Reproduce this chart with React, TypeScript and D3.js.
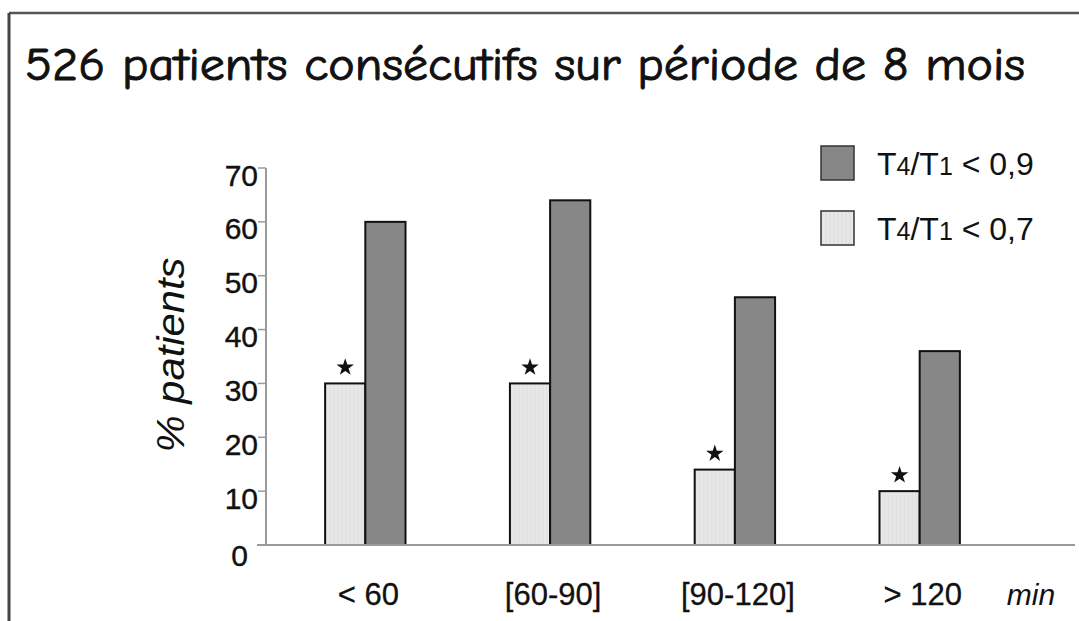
import React from "react";
import * as d3 from "d3";

const categories: string[] = ["< 60", "[60-90]", "[90-120]", "> 120"];
const seriesKeys: string[] = ["lt07", "lt09"];
const valuesLt07: number[] = [30, 30, 14, 10];
const valuesLt09: number[] = [60, 64, 46, 36];
const significant: boolean[] = [true, true, true, true];
const yTicks: number[] = [0, 10, 20, 30, 40, 50, 60, 70];
const titleText = "526 patients consécutifs sur période de 8 mois";
const yLabel = "% patients";
const unitLabel = "min";
const legendItems = [
  { key: "lt09", main: "T", sub1: "4", sep: "/T", sub2: "1", rest: " < 0,9" },
  { key: "lt07", main: "T", sub1: "4", sep: "/T", sub2: "1", rest: " < 0,7" },
];

const W = 1079;
const H = 621;
const FONT = "'Liberation Sans', Arial, Helvetica, sans-serif";
const COLORS: Record<string, string> = { lt07: "#e7e7e7", lt09: "#878787" };

export default function App() {
  const axisX = 266;
  const y = d3.scaleLinear().domain([0, 70]).range([545, 168]);
  const x = d3
    .scaleBand<string>()
    .domain(categories)
    .range([axisX, 1019])
    .paddingInner(0.565)
    .paddingOuter(0.32);
  const xs = d3.scaleBand<string>().domain(seriesKeys).range([0, x.bandwidth()]).padding(0);
  const data = categories.map((c, i) => ({
    cat: c,
    lt07: valuesLt07[i],
    lt09: valuesLt09[i],
    star: significant[i],
  }));
  const star = d3.symbol().type(d3.symbolStar).size(95)();

  return (
    <svg
      width={W}
      height={H}
      viewBox={`0 0 ${W} ${H}`}
      style={{ position: "absolute", left: 0, top: 0, background: "#fff" }}
    >
      <defs>
        <pattern id="stripes" width="4" height="4" patternUnits="userSpaceOnUse">
          <rect width="4" height="4" fill="#e8e8e8" />
          <line x1="1" y1="0" x2="1" y2="4" stroke="#dcdcdc" strokeWidth="1" />
        </pattern>
      </defs>
      <rect x={0} y={0} width={W} height={H} fill="#fff" />
      {/* frame */}
      <line x1={9} y1={13} x2={W} y2={13} stroke="#555" strokeWidth={2.5} />
      <line x1={9} y1={13} x2={9} y2={H} stroke="#444" strokeWidth={3} />

      {/* title */}
      <text
        x={25}
        y={80}
        fontFamily="'Comic Sans MS', 'Comic Neue', 'DejaVu Sans', sans-serif"
        fontSize={46}
        fontWeight={400}
        fill="#111"
        stroke="#111"
        strokeWidth={1}
        textLength={1000}
        lengthAdjust="spacingAndGlyphs"
      >
        {titleText}
      </text>

      {/* y label */}
      <text
        transform={`translate(184,355) rotate(-90)`}
        textAnchor="middle"
        fontFamily={FONT}
        fontStyle="italic"
        fontSize={39}
        fill="#111"
        textLength={195}
        lengthAdjust="spacingAndGlyphs"
      >
        {yLabel}
      </text>

      {/* y axis */}
      <line x1={axisX} y1={y(70)} x2={axisX} y2={y(0)} stroke="#9a9a9a" strokeWidth={2} />
      {yTicks.map((t) => (
        <g key={t} transform={`translate(0,${y(t)})`}>
          <line x1={axisX - 8} x2={axisX} y1={0} y2={0} stroke="#9a9a9a" strokeWidth={1.5} />
          <text
            x={t === 0 ? 248 : axisX - 8}
            y={t === 0 ? 10 : 7}
            dy="0.35em"
            textAnchor="end"
            fontFamily={FONT}
            fontSize={30}
            fill="#111"
            stroke="#111"
            strokeWidth={0.4}
          >
            {t}
          </text>
        </g>
      ))}

      {/* bars */}
      {data.map((d) => (
        <g key={d.cat} transform={`translate(${x(d.cat)},0)`}>
          {seriesKeys.map((k) => {
            const v = (d as any)[k] as number;
            return (
              <rect
                key={k}
                x={xs(k)}
                y={y(v)}
                width={xs.bandwidth()}
                height={y(0) - y(v)}
                fill={k === "lt07" ? "url(#stripes)" : COLORS[k]}
                stroke="#111"
                strokeWidth={2}
              />
            );
          })}
          {d.star && (
            <path
              d={star || ""}
              transform={`translate(${(xs("lt07") || 0) + xs.bandwidth() / 2},${y(d.lt07) - 16})`}
              fill="#111"
            />
          )}
        </g>
      ))}

      {/* baseline */}
      <line x1={257} x2={1075} y1={y(0)} y2={y(0)} stroke="#9a9a9a" strokeWidth={2} />

      {/* x labels */}
      {categories.map((c) => (
        <text
          key={c}
          x={(x(c) || 0) + x.bandwidth() / 2 + 3}
          y={605}
          textAnchor="middle"
          fontFamily={FONT}
          fontSize={31}
          fill="#111"
          stroke="#111"
          strokeWidth={0.3}
        >
          {c}
        </text>
      ))}
      <text x={1031} y={605} textAnchor="middle" fontFamily={FONT} fontStyle="italic" fontSize={30} fill="#111">
        {unitLabel}
      </text>

      {/* legend */}
      {legendItems.map((it, i) => (
        <g key={it.key} transform={`translate(821,${146 + i * 65})`}>
          <rect
            x={0}
            y={0}
            width={33}
            height={34}
            fill={it.key === "lt07" ? "url(#stripes)" : COLORS[it.key]}
            stroke="#333"
            strokeWidth={1.5}
          />
          <text x={56} y={29} fontFamily={FONT} fontSize={32} fill="#111">
            <tspan>{it.main}</tspan>
            <tspan fontSize={25}>{it.sub1}</tspan>
            <tspan>{it.sep}</tspan>
            <tspan fontSize={25}>{it.sub2}</tspan>
            <tspan>{it.rest}</tspan>
          </text>
        </g>
      ))}
    </svg>
  );
}
